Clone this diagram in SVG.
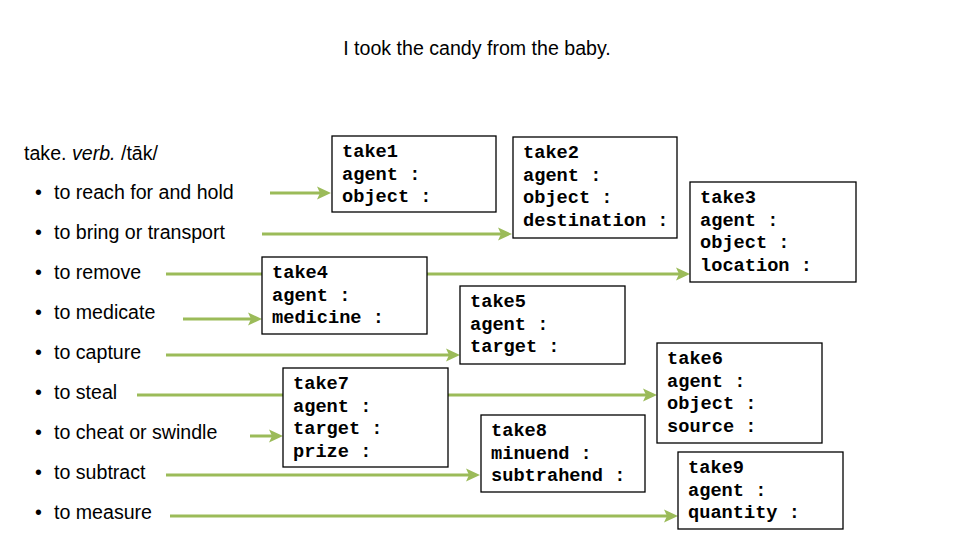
<svg xmlns="http://www.w3.org/2000/svg" width="960" height="540" viewBox="0 0 960 540">
<defs>
<marker id="ah" markerUnits="userSpaceOnUse" markerWidth="16" markerHeight="14" viewBox="0 -7 16 14" refX="4" refY="0" orient="auto">
<path d="M0,-6.5 L14,0 L0,6.5 L3,0 Z" fill="#9BBB59"/>
</marker>
</defs>
<style>
.t{font-family:"Liberation Sans",Arial,sans-serif;font-size:19.6px;fill:#000}
.b{fill:#000}
.c{stroke:#9BBB59;stroke-width:3;fill:none;marker-end:url(#ah)}
.box{fill:#fff;stroke:#000;stroke-width:1.3}
.m{font-family:"Liberation Mono","Courier New",monospace;font-weight:bold;font-size:18.67px;fill:#000}
</style>
<rect width="960" height="540" fill="#fff"/>
<text class="t" x="477" y="55" text-anchor="middle" font-size="19.5">I took the candy from the baby.</text>
<g id="definitions">
<text class="t" x="24" y="160">take. <tspan font-style="italic">verb.</tspan> /tāk/</text>
<g class="t">
<text x="35" y="199">•</text><text x="54" y="199">to reach for and hold</text>
<text x="35" y="239">•</text><text x="54" y="239">to bring or transport</text>
<text x="35" y="279">•</text><text x="54" y="279">to remove</text>
<text x="35" y="319">•</text><text x="54" y="319">to medicate</text>
<text x="35" y="359">•</text><text x="54" y="359">to capture</text>
<text x="35" y="399">•</text><text x="54" y="399">to steal</text>
<text x="35" y="439">•</text><text x="54" y="439">to cheat or swindle</text>
<text x="35" y="479">•</text><text x="54" y="479">to subtract</text>
<text x="35" y="519">•</text><text x="54" y="519">to measure</text>
</g>
</g>
<g id="connectors">
<line class="c" x1="270" y1="193" x2="321" y2="193"/>
<line class="c" x1="262" y1="234" x2="502" y2="234"/>
<line class="c" x1="166" y1="274" x2="680" y2="274"/>
<line class="c" x1="183" y1="319" x2="252" y2="319"/>
<line class="c" x1="166" y1="355" x2="450" y2="355"/>
<line class="c" x1="137" y1="395" x2="647" y2="395"/>
<line class="c" x1="250" y1="436" x2="273" y2="436"/>
<line class="c" x1="166" y1="475" x2="470" y2="475"/>
<line class="c" x1="170" y1="516" x2="668" y2="516"/>
</g>
<g id="take1">
<rect class="box" x="332" y="136" width="164" height="76"/>
<text class="m" x="342" y="157">take1</text>
<text class="m" x="342" y="179.5">agent :</text>
<text class="m" x="342" y="202">object :</text>
</g>
<g id="take2">
<rect class="box" x="513" y="137" width="164" height="101"/>
<text class="m" x="523" y="158">take2</text>
<text class="m" x="523" y="180.5">agent :</text>
<text class="m" x="523" y="203">object :</text>
<text class="m" x="523" y="225.5">destination :</text>
</g>
<g id="take3">
<rect class="box" x="690" y="182" width="166" height="100"/>
<text class="m" x="700" y="203">take3</text>
<text class="m" x="700" y="225.5">agent :</text>
<text class="m" x="700" y="248">object :</text>
<text class="m" x="700" y="270.5">location :</text>
</g>
<g id="take4">
<rect class="box" x="262" y="257" width="165" height="77"/>
<text class="m" x="272" y="278">take4</text>
<text class="m" x="272" y="300.5">agent :</text>
<text class="m" x="272" y="323">medicine :</text>
</g>
<g id="take5">
<rect class="box" x="460" y="286" width="165" height="78"/>
<text class="m" x="470" y="307">take5</text>
<text class="m" x="470" y="329.5">agent :</text>
<text class="m" x="470" y="352">target :</text>
</g>
<g id="take6">
<rect class="box" x="657" y="343" width="165" height="100"/>
<text class="m" x="667" y="364">take6</text>
<text class="m" x="667" y="386.5">agent :</text>
<text class="m" x="667" y="409">object :</text>
<text class="m" x="667" y="431.5">source :</text>
</g>
<g id="take7">
<rect class="box" x="283" y="368" width="165" height="99"/>
<text class="m" x="293" y="389">take7</text>
<text class="m" x="293" y="411.5">agent :</text>
<text class="m" x="293" y="434">target :</text>
<text class="m" x="293" y="456.5">prize :</text>
</g>
<g id="take8">
<rect class="box" x="481" y="415" width="164" height="77"/>
<text class="m" x="491" y="436">take8</text>
<text class="m" x="491" y="458.5">minuend :</text>
<text class="m" x="491" y="481">subtrahend :</text>
</g>
<g id="take9">
<rect class="box" x="678" y="452" width="165" height="77"/>
<text class="m" x="688" y="473">take9</text>
<text class="m" x="688" y="495.5">agent :</text>
<text class="m" x="688" y="518">quantity :</text>
</g>
</svg>
